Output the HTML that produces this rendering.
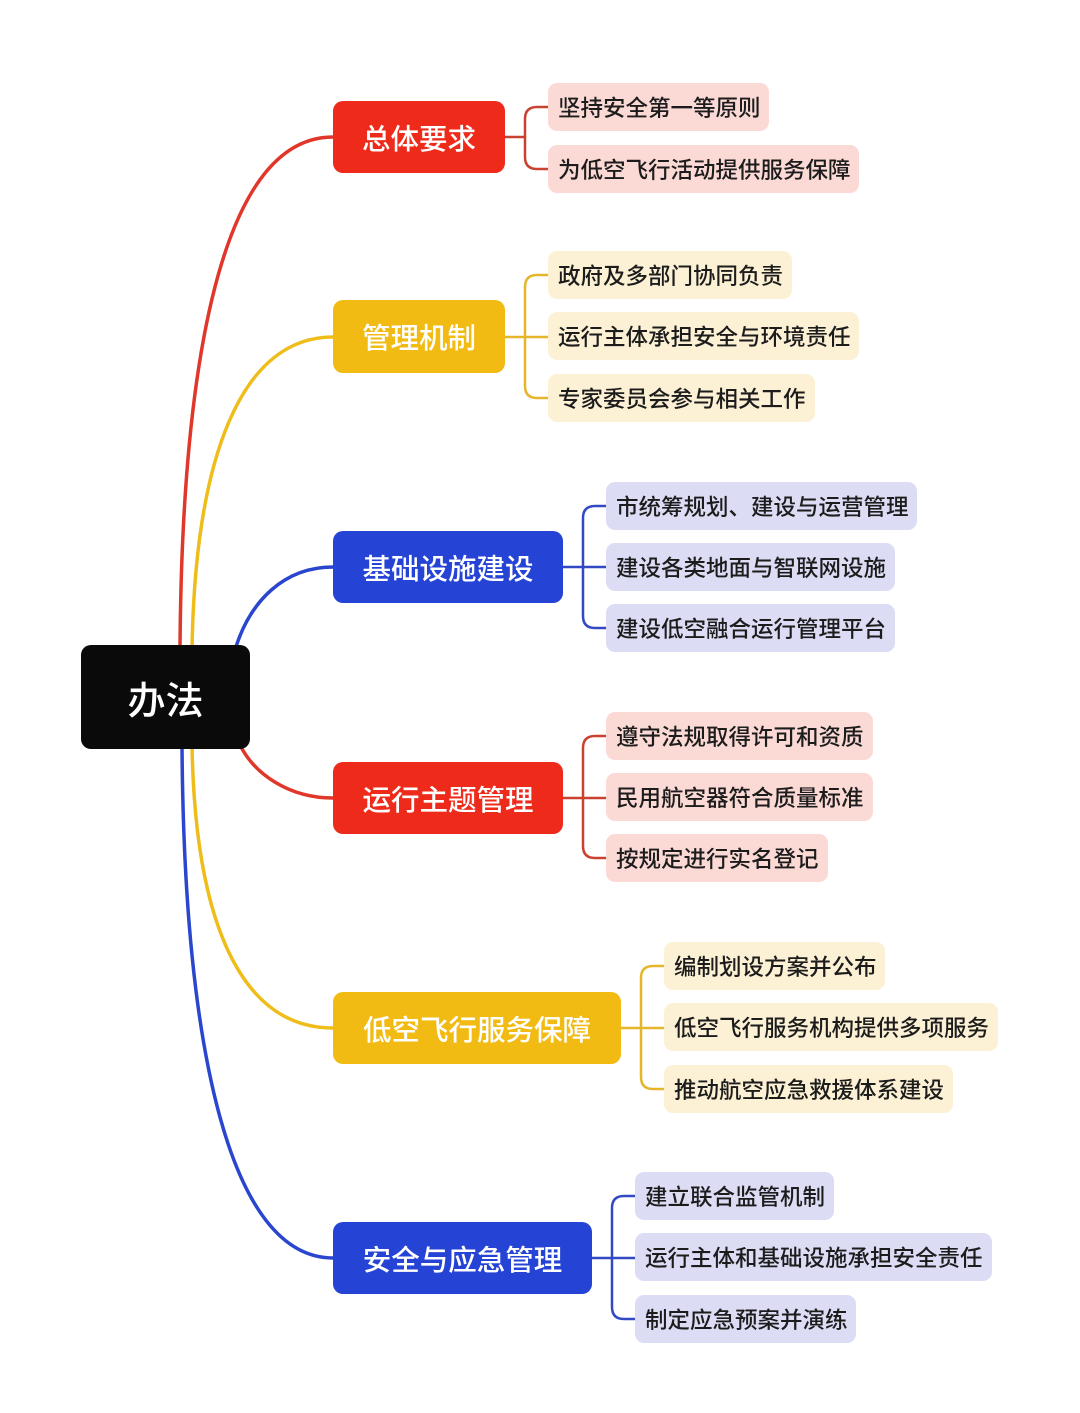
<!DOCTYPE html>
<html><head><meta charset="utf-8">
<style>
html,body{margin:0;padding:0;background:#fff;}
body{width:1080px;height:1413px;position:relative;overflow:hidden;font-family:"Liberation Sans","Noto Sans CJK SC",sans-serif;}
.b{position:absolute;border-radius:10px;color:#fff;display:flex;align-items:center;justify-content:center;font-size:28.5px;font-weight:500;}
.c{position:absolute;border-radius:9px;color:#1c1c1c;display:flex;align-items:center;padding-left:10px;box-sizing:border-box;font-size:22.5px;font-weight:500;height:48px;white-space:nowrap;}
.r{background:#ee2a1a}.y{background:#f2bb13}.u{background:#2543d4}
.pr{background:#fbdad6}.py{background:#fcf1d4}.pu{background:#dcdcf5}
svg{position:absolute;left:0;top:0}
</style></head><body>
<svg width="1080" height="1413" fill="none" stroke-width="3.5" stroke-linecap="round">
<path d="M180,650 C182,330 230,137 333,137" stroke="#e0372a"/>
<path d="M192,650 C195,460 240,337 333,337" stroke="#efbd1a"/>
<path d="M235,650 C250,600 285,567 333,567" stroke="#2a46cf"/>
<path d="M240,745 C255,775 290,798 333,798" stroke="#e0372a"/>
<path d="M192,745 C195,920 240,1028 333,1028" stroke="#efbd1a"/>
<path d="M182,745 C184,1050 230,1258 333,1258" stroke="#2a46cf"/>
<g stroke-width="2.5">
<g stroke="#c9412f"><path d="M505,137 H525"/><path d="M548,107 H537 Q525,107 525,119 V157 Q525,169 537,169 H548"/></g>
<g stroke="#e5b52a"><path d="M505,337 H548"/><path d="M548,275 H537 Q525,275 525,287 V386 Q525,398 537,398 H548"/></g>
<g stroke="#3349c4"><path d="M563,567 H606"/><path d="M606,506 H595 Q583,506 583,518 V616 Q583,628 595,628 H606"/></g>
<g stroke="#c9412f"><path d="M563,798 H606"/><path d="M606,736 H595 Q583,736 583,748 V846 Q583,858 595,858 H606"/></g>
<g stroke="#e5b52a"><path d="M621,1028 H664"/><path d="M664,966 H653 Q641,966 641,978 V1077 Q641,1089 653,1089 H664"/></g>
<g stroke="#3349c4"><path d="M592,1258 H635"/><path d="M635,1196 H624 Q612,1196 612,1208 V1307 Q612,1319 624,1319 H635"/></g>
</g>
</svg>
<div class="b" style="left:81px;top:645px;width:169px;height:104px;background:#0a0a0a;font-size:38px;">办法</div>
<div class="b r" style="left:333px;top:101px;width:172px;height:72px;">总体要求</div>
<div class="b y" style="left:333px;top:300px;width:172px;height:73px;">管理机制</div>
<div class="b u" style="left:333px;top:531px;width:230px;height:72px;">基础设施建设</div>
<div class="b r" style="left:333px;top:762px;width:230px;height:72px;">运行主题管理</div>
<div class="b y" style="left:333px;top:992px;width:288px;height:72px;">低空飞行服务保障</div>
<div class="b u" style="left:333px;top:1222px;width:259px;height:72px;">安全与应急管理</div>

<div class="c pr" style="left:548px;top:83px;width:221px;">坚持安全第一等原则</div>
<div class="c pr" style="left:548px;top:145px;width:311px;">为低空飞行活动提供服务保障</div>
<div class="c py" style="left:548px;top:251px;width:244px;">政府及多部门协同负责</div>
<div class="c py" style="left:548px;top:312px;width:311px;">运行主体承担安全与环境责任</div>
<div class="c py" style="left:548px;top:374px;width:267px;">专家委员会参与相关工作</div>
<div class="c pu" style="left:606px;top:482px;width:311px;">市统筹规划、建设与运营管理</div>
<div class="c pu" style="left:606px;top:543px;width:289px;">建设各类地面与智联网设施</div>
<div class="c pu" style="left:606px;top:604px;width:289px;">建设低空融合运行管理平台</div>
<div class="c pr" style="left:606px;top:712px;width:267px;">遵守法规取得许可和资质</div>
<div class="c pr" style="left:606px;top:773px;width:267px;">民用航空器符合质量标准</div>
<div class="c pr" style="left:606px;top:834px;width:222px;">按规定进行实名登记</div>
<div class="c py" style="left:664px;top:942px;width:221px;">编制划设方案并公布</div>
<div class="c py" style="left:664px;top:1003px;width:334px;">低空飞行服务机构提供多项服务</div>
<div class="c py" style="left:664px;top:1065px;width:289px;">推动航空应急救援体系建设</div>
<div class="c pu" style="left:635px;top:1172px;width:199px;">建立联合监管机制</div>
<div class="c pu" style="left:635px;top:1233px;width:357px;">运行主体和基础设施承担安全责任</div>
<div class="c pu" style="left:635px;top:1295px;width:221px;">制定应急预案并演练</div>
</body></html>
